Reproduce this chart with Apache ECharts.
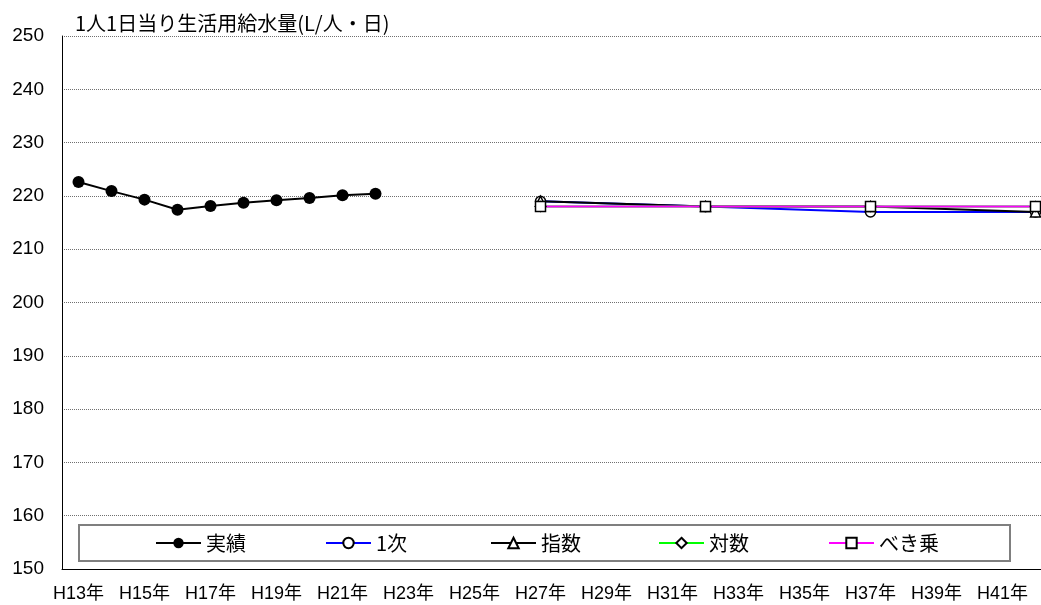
<!DOCTYPE html>
<html>
<head>
<meta charset="utf-8">
<script src="https://cdn.jsdelivr.net/npm/echarts@6/dist/echarts.min.js"></script>
<style>
  html, body { margin: 0; padding: 0; background: #fff; overflow: hidden; }
  /* プロット右端がウィンドウ外まで続くため、少し広く取る */
  #chart { width: 1052px; height: 605px; }
</style>
</head>
<body>
<div id="chart"></div>
<script>
// 年度（H13年〜H42年）
const years = [
  'H13年', 'H14年', 'H15年', 'H16年', 'H17年', 'H18年', 'H19年', 'H20年', 'H21年', 'H22年',
  'H23年', 'H24年', 'H25年', 'H26年', 'H27年', 'H28年', 'H29年', 'H30年', 'H31年', 'H32年',
  'H33年', 'H34年', 'H35年', 'H36年', 'H37年', 'H38年', 'H39年', 'H40年', 'H41年', 'H42年',
];

// 実績（H13〜H22）
const actualYears = ['H13年', 'H14年', 'H15年', 'H16年', 'H17年', 'H18年', 'H19年', 'H20年', 'H21年', 'H22年'];
const actual = [222.6, 220.9, 219.3, 217.4, 218.1, 218.7, 219.2, 219.6, 220.1, 220.4];

// 推計（H27, H32, H37, H42）
const forecastYears = ['H27年', 'H32年', 'H37年', 'H42年'];
const linear = [219, 218, 217, 217];      // 1次
const expo = [219, 218, 218, 217];        // 指数
const logar = [218, 218, 218, 218];       // 対数
const power = [218, 218, 218, 218];       // べき乗

const FONT = '"Liberation Sans", "Noto Sans CJK JP", sans-serif';
const JP = '"Noto Sans CJK JP", sans-serif';

const pairs = (xs, vs) => xs.map((x, i) => [x, vs[i]]);

const chart = echarts.init(document.getElementById('chart'));

// 凡例項目（位置は個別に指定）
const legendItems = [
  { name: '実績', left: 155 },
  { name: '1次', left: 325 },
  { name: '指数', left: 490 },
  { name: '対数', left: 658 },
  { name: 'べき乗', left: 828 },
];

const openMarker = (color, symbol) => ({
  type: 'line',
  symbol: symbol,
  symbolSize: 10,
  lineStyle: { color: color, width: 2 },
  itemStyle: { color: '#fff', borderColor: '#000', borderWidth: 1.5 },
  emphasis: { disabled: true },
});

chart.setOption({
  animation: false,
  title: {
    text: '1人1日当り生活用給水量(L/人・日)',
    left: 75,
    top: 13,
    padding: 0,
    textStyle: { fontFamily: JP, fontSize: 20, fontWeight: 'normal', color: '#000' },
  },
  graphic: [
    {
      type: 'rect',
      z: 3,
      shape: { x: 79, y: 525, width: 931, height: 36 },
      style: { fill: '#fff', stroke: '#7f7f7f', lineWidth: 2 },
    },
  ],
  legend: legendItems.map((it) => ({
    data: [it.name],
    left: it.left,
    top: 533,
    padding: 0,
    itemWidth: 45,
    itemHeight: 13,
    itemGap: 0,
    z: 5,
    textStyle: { fontFamily: JP, fontSize: 20, color: '#000', lineHeight: 20 },
  })),
  grid: { left: 62, right: 0, top: 36, bottom: 36, containLabel: false },
  xAxis: {
    type: 'category',
    data: years,
    boundaryGap: true,
    axisLine: { lineStyle: { color: '#000', width: 1 } },
    axisTick: { inside: true, length: 5, interval: 0, lineStyle: { color: '#000' } },
    axisLabel: { interval: 1, fontFamily: FONT, fontSize: 18, color: '#000', margin: 16 },
    splitLine: { show: false },
  },
  yAxis: {
    type: 'value',
    min: 150,
    max: 250,
    interval: 10,
    axisLine: { show: true, lineStyle: { color: '#000', width: 1 } },
    axisTick: { show: false },
    axisLabel: { fontFamily: FONT, fontSize: 19, color: '#000', margin: 18 },
    splitLine: { lineStyle: { color: '#707070', type: 'dotted', width: 1 } },
  },
  series: [
    {
      name: '実績',
      type: 'line',
      data: pairs(actualYears, actual),
      symbol: 'circle',
      symbolSize: 12,
      lineStyle: { color: '#000', width: 2 },
      itemStyle: { color: '#000' },
      z: 10,
    },
    Object.assign(openMarker('#0000ff', 'circle'), { name: '1次', data: pairs(forecastYears, linear) }),
    Object.assign(openMarker('#000000', 'triangle'), { name: '指数', data: pairs(forecastYears, expo) }),
    Object.assign(openMarker('#00ff00', 'diamond'), { name: '対数', data: pairs(forecastYears, logar) }),
    Object.assign(openMarker('#ff00ff', 'rect'), { name: 'べき乗', data: pairs(forecastYears, power) }),
  ],
});
</script>
</body>
</html>
